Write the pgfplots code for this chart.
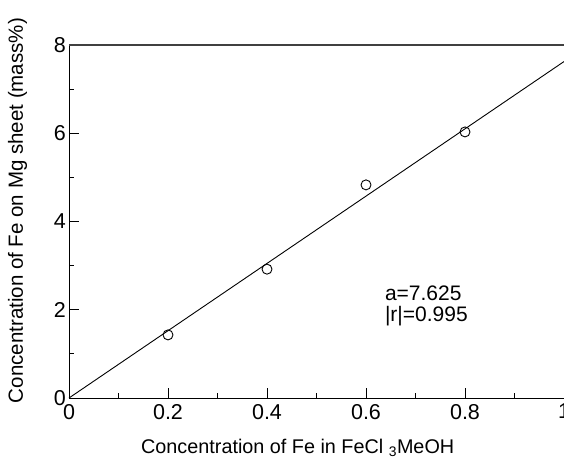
\documentclass[border=0pt]{standalone}
\usepackage{fontspec}
\setmainfont{Liberation Sans}
\usepackage{pgfplots}
\pgfplotsset{compat=1.18}

\begin{document}
\begin{tikzpicture}[x=1pt,y=1pt]
\begin{axis}[
  at={(0,0)}, anchor=south west,
  width=495pt, height=353pt, scale only axis,
  xmin=0, xmax=1, ymin=0, ymax=8,
  axis x line=bottom, axis y line=left,
  axis line style={-, line width=0.9pt},
  tick align=inside, xtick pos=bottom, ytick pos=left,
  xtick={0,0.2,0.4,0.6,0.8,1}, ytick={0,2,4,6,8},
  xticklabels={0,0.2,0.4,0.6,0.8,1},
  minor x tick num=1, minor y tick num=1,
  major tick length=10pt, minor tick length=5pt,
  every tick/.style={black, line width=0.9pt},
  font=\fontsize{20.5}{24}\selectfont,
  /pgf/number format/assume math mode=true,
  ticklabel style={font=\fontsize{21.5}{24}\selectfont},
  xticklabel style={inner sep=1pt, yshift=-5pt},
  yticklabel style={inner sep=1pt, xshift=-2pt},
  xlabel={Concentration of Fe in FeCl \textsubscript{3}MeOH},
  ylabel={Concentration of Fe on Mg sheet (mass\%)},
  xlabel style={at={(axis description cs:0.462,-0.156)}, anchor=base, font=\fontsize{19.8}{24}\selectfont},
  ylabel style={at={(axis description cs:-0.093,0.531)}, anchor=base},
  clip=false,
]
\draw[black!75, line width=1.6pt] (rel axis cs:0,1) -- (rel axis cs:1,1);
\addplot[black, line width=0.9pt] coordinates {(0,0) (1,7.625)};
\addplot[only marks, mark=o, mark size=5pt, mark options={black, fill=white, line width=0.9pt}]
  coordinates {(0.2,1.43) (0.4,2.92) (0.6,4.83) (0.8,6.03)};
\node[anchor=west, align=left, inner sep=0pt, font=\fontsize{21}{21}\selectfont] at (axis cs:0.638,2.09) {a=7.625\\|r|=0.995};
\end{axis}
\pgfresetboundingbox
\path[use as bounding box] (-69,-62) rectangle (495,398);
\end{tikzpicture}
\end{document}
